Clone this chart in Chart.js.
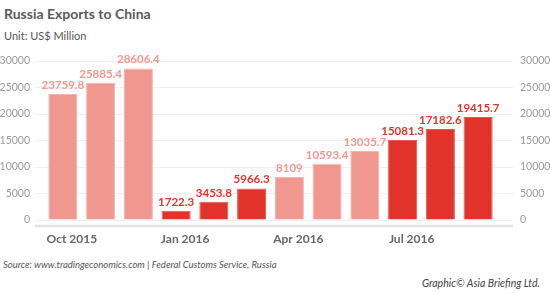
<!DOCTYPE html>
<html>
<head>
<meta charset="utf-8">
<script src="https://cdn.jsdelivr.net/npm/chart.js@4"></script>
<style>
  html, body { margin: 0; padding: 0; background: #fff; }
  body { width: 550px; height: 293px; position: relative; overflow: hidden; font-family: "Lato", "Open Sans", sans-serif; }
  #wrap { position: absolute; left: 0; top: 0; width: 550px; height: 250px; }
  .title { position: absolute; left: 4px; top: 5px; font-size: 14px; font-weight: bold; color: #5a5a5a; }
  .unit { position: absolute; left: 4px; top: 29px; font-size: 11px; color: #555; }
  .source { position: absolute; left: 3px; top: 259px; font-size: 9.5px; font-style: italic; color: #555; }
  .credit { position: absolute; right: 10px; top: 277px; font-size: 10.5px; font-style: italic; color: #444; }
</style>
</head>
<body>
<div class="title">Russia Exports to China</div>
<div class="unit">Unit: US$ Million</div>
<div id="wrap"><canvas id="grafico"></canvas></div>
<div class="source">Source: www.tradingeconomics.com | Federal Customs Service, Russia</div>
<div class="credit">Graphic© Asia Briefing Ltd.</div>
<script>
const meses = ["Oct 2015", "Nov 2015", "Dec 2015", "Jan 2016", "Feb 2016", "Mar 2016",
               "Apr 2016", "May 2016", "Jun 2016", "Jul 2016", "Aug 2016", "Sep 2016"];
const exportacoes = [23759.8, 25885.4, 28606.4, 1722.3, 3453.8, 5966.3,
                     8109, 10593.4, 13035.7, 15081.3, 17182.6, 19415.7];
const destaque = [false, false, false, true, true, true, false, false, false, true, true, true];
const rotulosX = ["Oct 2015", "Jan 2016", "Apr 2016", "Jul 2016"];

const CLARO = "#f0978f";
const ESCURO = "#e2332a";

const rotulosValor = {
  id: "rotulosValor",
  afterDatasetsDraw(chart) {
    const { ctx } = chart;
    const meta = chart.getDatasetMeta(0);
    ctx.save();
    ctx.font = "bold 11.5px Lato, 'Open Sans', sans-serif";
    ctx.textAlign = "center";
    ctx.textBaseline = "bottom";
    meta.data.forEach((bar, i) => {
      ctx.fillStyle = destaque[i] ? ESCURO : CLARO;
      ctx.fillText(String(exportacoes[i]), bar.x, bar.y - 3);
    });
    ctx.restore();
  },
  beforeDatasetsDraw(chart) {
    const { ctx, chartArea } = chart;
    ctx.save();
    ctx.strokeStyle = "#e2e2e2";
    ctx.lineWidth = 2.5;
    ctx.beginPath();
    ctx.moveTo(35, chartArea.bottom + 6);
    ctx.lineTo(513, chartArea.bottom + 6);
    ctx.stroke();
    ctx.restore();
  },
};

const eixoY = (posicao, largura, tick) => ({
  position: posicao,
  min: 0,
  max: 30000,
  afterFit: (s) => { s.width = largura; },
  ticks: {
    stepSize: 5000,
    color: "#9a9a9a",
    font: { size: 10.5, family: "Lato" },
    padding: posicao === "left" ? 5 : 7,
    callback: (v) => String(v),
  },
  grid: { color: "#efefef", lineWidth: 1, tickLength: tick, drawOnChartArea: posicao === "left" },
  border: { display: false },
});

new Chart(document.getElementById("grafico").getContext("2d"), {
  type: "bar",
  data: {
    labels: meses,
    datasets: [{
      data: exportacoes,
      backgroundColor: destaque.map((d) => (d ? ESCURO : CLARO)),
      borderColor: destaque.map((d) => (d ? "#e8554d" : "#f5b3ad")),
      borderWidth: 1,
      barPercentage: 0.77,
      categoryPercentage: 1,
    }],
  },
  options: {
    responsive: true,
    maintainAspectRatio: false,
    animation: false,
    layout: { padding: { top: 61, left: 0, right: 0, bottom: 0 } },
    plugins: { legend: { display: false }, tooltip: { enabled: false } },
    scales: {
      x: {
        afterFit: (s) => { s.height = 30; },
        grid: { display: false, drawTicks: false },
        border: { display: false },
        ticks: {
          autoSkip: false,
          maxRotation: 0,
          padding: 12,
          labelOffset: 9,
          color: "#666",
          font: { size: 12, weight: "bold", family: "Lato" },
          callback: (v, i) => (rotulosX.includes(meses[i]) ? meses[i] : ""),
        },
      },
      y: eixoY("left", 44, 9),
      y2: eixoY("right", 53, 16),
    },
  },
  plugins: [rotulosValor],
});
</script>
</body>
</html>
